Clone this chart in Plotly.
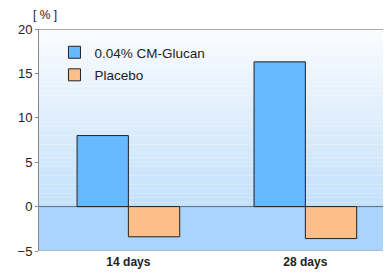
import plotly.graph_objects as go
import numpy as np

categories = ["14 days", "28 days"]
glucan = [8.0, 16.3]
placebo = [-3.4, -3.6]
y_ticks = [-5, 0, 5, 10, 15, 20]

fig = go.Figure()
fig.add_bar(x=categories, y=glucan, name="0.04% CM-Glucan", legendgroup="a",
            marker=dict(color="#66b8ff", line=dict(color="#222", width=1)))
fig.add_bar(x=categories, y=placebo, name="Placebo", legendgroup="b",
            marker=dict(color="#fdbf8a", line=dict(color="#222", width=1)))

# background gradient (above zero) and flat band (below zero)
shapes = []
n = 40
top = np.array([251, 252, 255])
bot = np.array([196, 225, 251])
X1 = 1.0
for i in range(n):
    y0 = 20 * i / n
    y1 = 20 * (i + 1) / n
    c = top + (bot - top) * (1 - (i + 0.5) / n)
    shapes.append(dict(type="rect", xref="paper", yref="y", x0=0, x1=X1, y0=y0, y1=y1,
                       fillcolor="rgb(%d,%d,%d)" % tuple(c.astype(int)), line=dict(width=0),
                       layer="below"))
shapes.append(dict(type="rect", xref="paper", yref="y", x0=0, x1=X1, y0=-5, y1=0,
                   fillcolor="rgb(170,212,252)", line=dict(width=0), layer="below"))
shapes.append(dict(type="line", xref="paper", yref="y", x0=0, x1=X1, y0=20, y1=20,
                   line=dict(color="#aaaaaa", width=2)))
shapes.append(dict(type="line", xref="paper", yref="y", x0=0, x1=X1, y0=-5, y1=-5,
                   line=dict(color="#aaaaaa", width=1)))
shapes.append(dict(type="line", xref="paper", yref="y", x0=0, x1=X1, y0=0, y1=0,
                   line=dict(color="#5a6a7a", width=1), layer="below"))

FONT = "Liberation Sans, Arial, sans-serif"
fig.update_layout(
    width=391, height=273,
    margin=dict(l=31, r=0, t=21, b=30),
    barmode="group",
    bargap=0.42,
    bargroupgap=0,
    plot_bgcolor="rgba(0,0,0,0)",
    paper_bgcolor="white",
    font=dict(family=FONT, size=12, color="#222"),
    shapes=shapes,
    showlegend=True,
    legend=dict(x=0.043, y=0.964, xanchor="left", yanchor="top",
                bgcolor="rgba(0,0,0,0)", font=dict(size=13.5, color="#222"),
                itemwidth=30, tracegroupgap=2),
    xaxis=dict(range=[-0.505, 1.529], showgrid=False, showline=False, ticks="",
               tickfont=dict(size=12, color="#222", family=FONT),
               ticklabelstandoff=2),
    yaxis=dict(range=[-5, 20], tickvals=y_ticks, showgrid=False, zeroline=False,
               showline=True, linecolor="#888", linewidth=1,
               ticks="outside", ticklen=3, tickcolor="#888",
               tickfont=dict(size=13, color="#222")),
    annotations=[dict(text="[ % ]", xref="paper", yref="paper", x=0.017, y=1.0,
                      xanchor="center", yanchor="middle", showarrow=False,
                      font=dict(size=12, color="#222"), yshift=14)],
)
fig.update_xaxes(ticktext=["<b>14 days</b>", "<b>28 days</b>"], tickvals=categories)

fig.write_html("out.html")
